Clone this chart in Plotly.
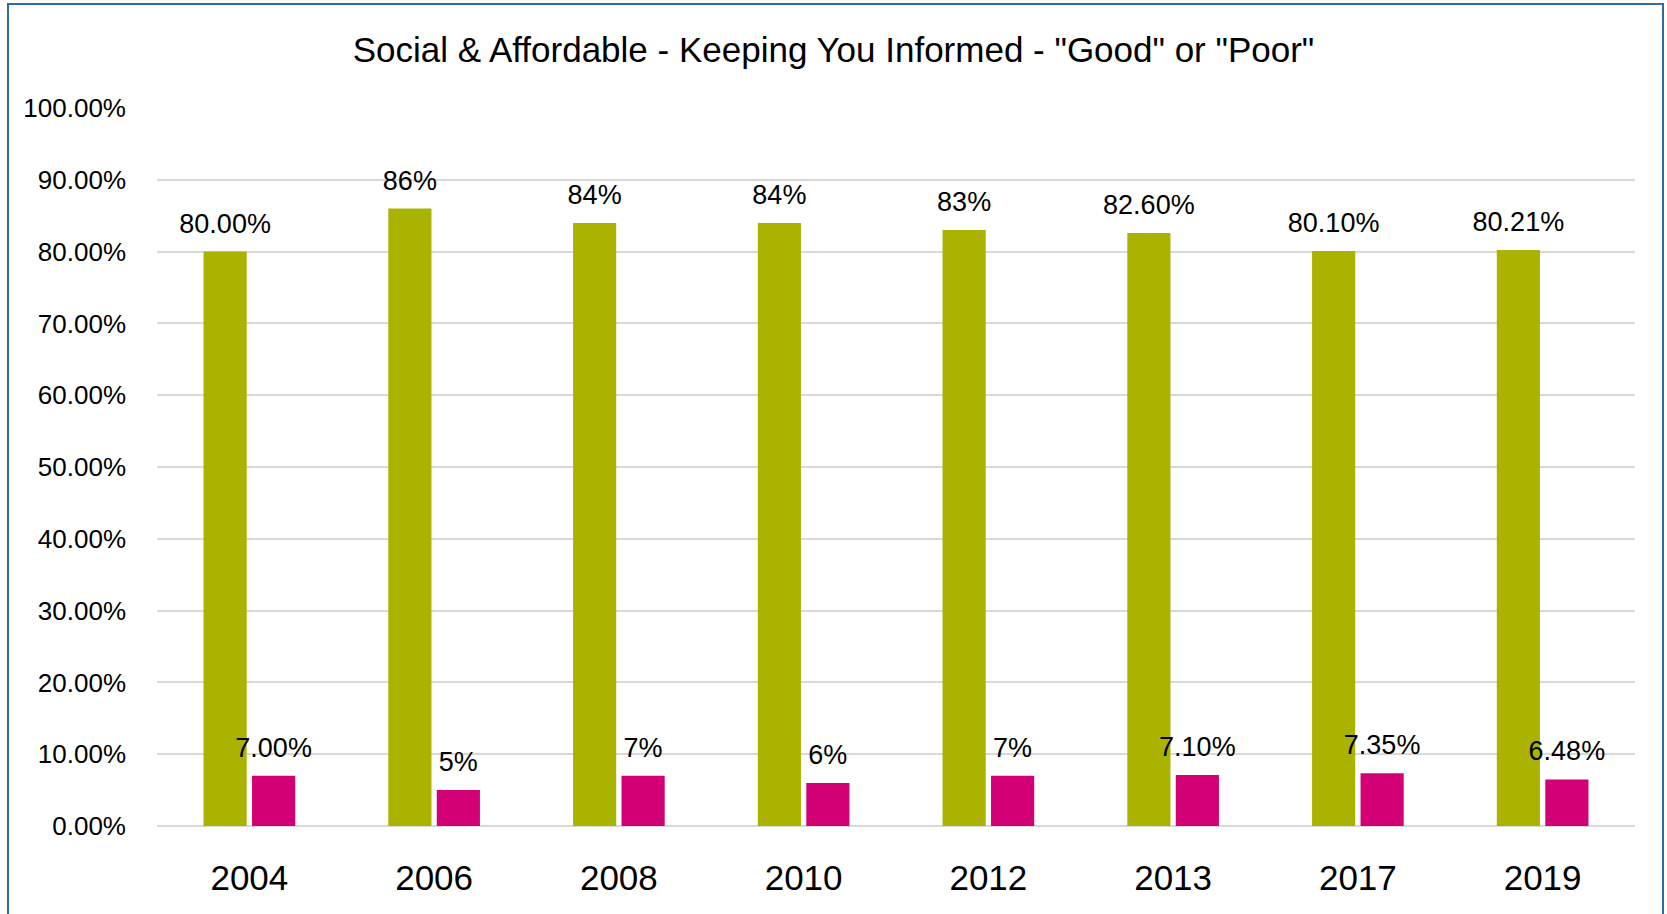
import plotly.graph_objects as go

# Survey years and results (percent of respondents)
years = ["2004", "2006", "2008", "2010", "2012", "2013", "2017", "2019"]
good = [80.00, 86, 84, 84, 83, 82.60, 80.10, 80.21]
good_decimals = [2, 0, 0, 0, 0, 2, 2, 2]
poor = [7.00, 5, 7, 6, 7, 7.10, 7.35, 6.48]
poor_decimals = [2, 0, 0, 0, 0, 2, 2, 2]
y_ticks = [0, 10, 20, 30, 40, 50, 60, 70, 80, 90, 100]

GREEN = "#AAB400"
PINK = "#D20074"
FONT = "Liberation Sans Narrow, Arial Narrow, Liberation Sans, Arial, sans-serif"

W, H = 1667, 914
ML, MR, MT, MB = 157, 32, 108, 88
GAP = 0.475


def labels(vals, decs):
    return [f"{v:.{d}f}%" for v, d in zip(vals, decs)]


fig = go.Figure()
series = [
    ("Good", good, good_decimals, GREEN),
    ("Poor", poor, poor_decimals, PINK),
]
for name, vals, decs, color in series:
    fig.add_trace(go.Bar(
        name=name, x=years, y=vals, marker_color=color,
        marker_line_width=0, hoverinfo="x+y",
    ))

# value labels, grouped the same way as the bars so each sits over its bar
for name, vals, decs, color in series:
    fig.add_trace(go.Scatter(
        name=name + " label", x=years, y=vals,
        mode="markers+text", text=labels(vals, decs),
        textposition="top center",
        textfont=dict(size=27, color="#000000", family=FONT),
        marker=dict(size=18, opacity=0), hoverinfo="skip",
        cliponaxis=False, showlegend=False,
    ))

# frame around the whole chart area
pw, ph = W - ML - MR, H - MT - MB
fig.add_shape(
    type="rect", xref="paper", yref="paper",
    x0=(8 - ML) / pw, x1=(1663 - ML) / pw,
    y0=(H - 930 - MB) / ph, y1=(H - 4 - MB) / ph,
    line=dict(color="#2E6DA4", width=2), fillcolor="rgba(0,0,0,0)",
    layer="above",
)

fig.update_layout(
    width=W, height=H,
    margin=dict(l=ML, r=MR, t=MT, b=MB),
    paper_bgcolor="white", plot_bgcolor="white",
    barmode="group", bargap=GAP, bargroupgap=0.11,
    scattermode="group", scattergap=GAP,
    showlegend=False,
    font=dict(family=FONT, color="#000000"),
    title=dict(
        text='Social & Affordable - Keeping You Informed - "Good" or "Poor"',
        x=0.5, xref="container", xanchor="center",
        y=1 - 50 / H, yref="container", yanchor="middle",
        font=dict(size=35, family=FONT, color="#000000"),
    ),
    xaxis=dict(
        type="category", showgrid=False, zeroline=False, showline=False,
        tickfont=dict(size=35, family=FONT), ticks="", ticklabelstandoff=28,
    ),
    yaxis=dict(
        range=[0, 100], tickmode="array", tickvals=y_ticks,
        ticktext=[f"{v:.2f}%" for v in y_ticks],
        showgrid=True, gridcolor="#D9D9D9", gridwidth=2,
        zeroline=True, zerolinecolor="#D9D9D9", zerolinewidth=2,
        showline=False, ticks="",
        tickfont=dict(size=26, family=FONT), ticklabelstandoff=30,
    ),
)

fig.write_html("out.html")
